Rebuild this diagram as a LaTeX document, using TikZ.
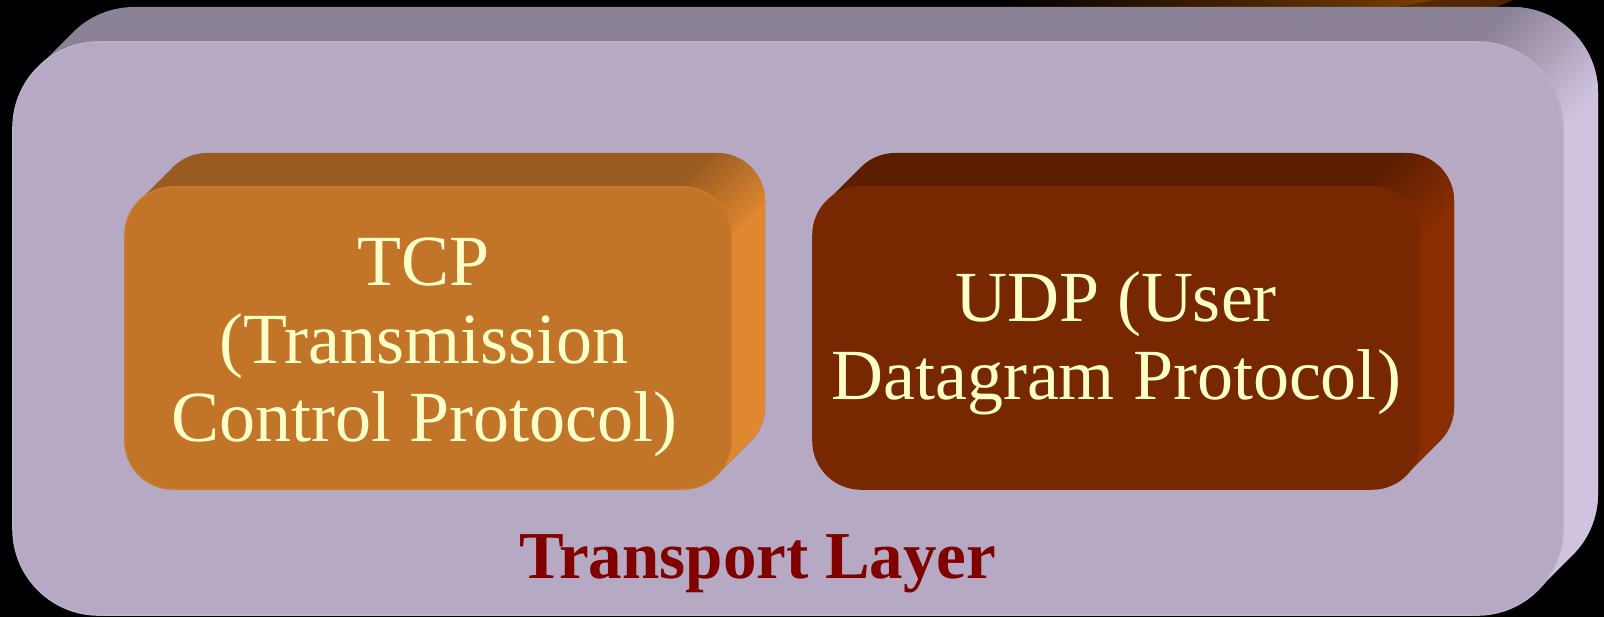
\documentclass[tikz,border=0pt]{standalone}
\usepackage{fontspec}
\setmainfont{Liberation Serif}
\definecolor{lavfront}{HTML}{B6A9C4}
\definecolor{lavtop}{HTML}{8C8296}
\definecolor{lavside}{HTML}{D0C3E0}
\definecolor{orfront}{HTML}{C27528}
\definecolor{ortop}{HTML}{985B20}
\definecolor{orside}{HTML}{E08830}
\definecolor{udfront}{HTML}{772800}
\definecolor{udtop}{HTML}{5C1E00}
\definecolor{udside}{HTML}{8A2E00}
\definecolor{cream}{HTML}{FFFFC8}
\definecolor{maroon}{HTML}{800000}
\definecolor{topbrown}{HTML}{7C3E00}
\definecolor{topdark}{HTML}{5E2C00}
% #1 x1, #2 y1 (bottom), #3 x2, #4 y2 (top), #5 radius, #6 depth, #7 front, #8 top, #9 side
\newcommand{\tdbox}[9]{%
  \fill[#8] (#1,{#2+#5}) -- (#1,{#4-#5}) arc[start angle=180,end angle=135,radius=#5]
    -- ++(#6,#6) arc[start angle=135,end angle=90,radius=#5]
    -- ({#3+#6-#5},{#4+#6}) arc[start angle=90,end angle=0,radius=#5]
    -- ({#3+#6},{#2+#6+#5}) arc[start angle=0,end angle=-45,radius=#5]
    -- ++(-#6,-#6) arc[start angle=-45,end angle=-90,radius=#5]
    -- ({#1+#5},#2) arc[start angle=270,end angle=180,radius=#5] -- cycle;
  \fill[#9] ({#3-#5+#5*cos(45)},{#4-#5+#5*sin(45)}) -- ++(#6,#6)
    arc[start angle=45,end angle=0,radius=#5]
    -- ({#3+#6},{#2+#6+#5}) arc[start angle=0,end angle=-45,radius=#5]
    -- ++(-#6,-#6) arc[start angle=-45,end angle=0,radius=#5]
    -- (#3,{#4-#5}) arc[start angle=0,end angle=45,radius=#5] -- cycle;
  % soft gradient on the swept top-right corner
  \shade[top color=#8, bottom color=#9, shading angle=45]
    ({#3-#5},#4) -- ++(#6,#6) arc[start angle=90,end angle=0,radius=#5]
    -- ++(-#6,-#6) arc[start angle=0,end angle=90,radius=#5] -- cycle;
  \fill[#7, draw=#7!75!#9, line width=0.8pt] (#1,{#2+#5}) -- (#1,{#4-#5}) arc[start angle=180,end angle=90,radius=#5]
    -- ({#3-#5},#4) arc[start angle=90,end angle=0,radius=#5]
    -- (#3,{#2+#5}) arc[start angle=0,end angle=-90,radius=#5]
    -- ({#1+#5},#2) arc[start angle=270,end angle=180,radius=#5] -- cycle;
}
\tikzset{
  boxtext/.style={text=cream, align=center, font=\fontsize{36}{39}\selectfont, inner sep=0pt},
  layertext/.style={text=maroon, font=\fontsize{33.5}{36}\selectfont\bfseries, inner sep=0pt, anchor=base},
}
\begin{document}
\begin{tikzpicture}[x=0.5pt,y=0.5pt]
  \useasboundingbox (0,0) rectangle (1604,617);
  \fill[black] (0,0) rectangle (1604,617);
  % partial shape at the top (a box above, mostly hidden)
  \shade[left color=black, right color=topbrown] (997,617) -- (1437,617) -- (1383,607) -- (997,607) -- cycle;
  \shade[left color=topdark, right color=topdark!80!black] (1437,617) -- (1513,617) -- (1490,607) -- (1383,607) -- cycle;
  % transport layer box
  \tdbox{13}{2}{1563}{575}{86}{35}{lavfront}{lavtop}{lavside}
  % TCP box
  \tdbox{125}{128}{731}{430}{48}{34}{orfront}{ortop}{orside}
  % UDP box
  \tdbox{813}{128}{1420}{430}{48}{34}{udfront}{udtop}{udside}
  \node[boxtext] (tcp) at (424,270) {TCP\\(Transmission\\Control Protocol)};
  \node[boxtext] (udp) at (1116,274) {UDP (User\\Datagram Protocol)};
  \node[layertext] (layer) at (758,39) {Transport Layer};
\end{tikzpicture}
\end{document}
